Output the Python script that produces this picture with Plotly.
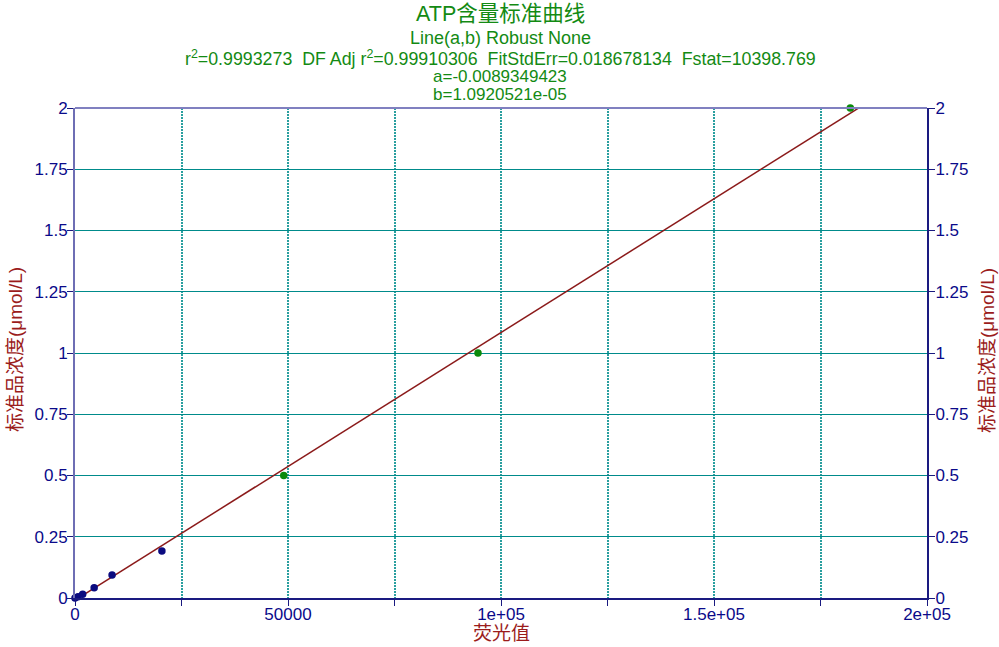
import plotly.graph_objects as go

# Standard points (fluorescence value vs concentration)
x_high = [49000, 94600, 182000]
y_high = [0.5, 1.0, 2.0]
x_low = [0, 700, 1800, 4500, 8700, 20400]
y_low = [0.0, 0.005, 0.015, 0.042, 0.094, 0.192]

# Fit parameters
a = -0.0089349423
b = 1.0920521e-05
fit_x = [0, 200000]
fit_y = [a + b * v for v in fit_x]

x_tickvals = [0, 25000, 50000, 75000, 100000, 125000, 150000, 175000, 200000]
x_ticktext = ["0", "", "50000", "", "1e+05", "", "1.5e+05", "", "2e+05"]
y_tickvals = [0, 0.25, 0.5, 0.75, 1, 1.25, 1.5, 1.75, 2]
y_ticktext = ["0", "0.25", "0.5", "0.75", "1", "1.25", "1.5", "1.75", "2"]

x_title = "荧光值"
y_title = "标准品浓度(μmol/L)"

FONT = "Liberation Sans, Arial, Noto Sans CJK SC, sans-serif"
NAVY = "#0a0a8a"
RED = "#9b1c1c"
GREEN = "#138a13"

fig = go.Figure()
fig.add_trace(go.Scatter(x=fit_x, y=fit_y, mode="lines",
                         line=dict(color="#8b1a1a", width=1.5), showlegend=False,
                         hoverinfo="skip"))
fig.add_trace(go.Scatter(x=x_low, y=y_low, mode="markers",
                         marker=dict(color="#0b0b80", size=7.5), showlegend=False,
                         cliponaxis=False))
fig.add_trace(go.Scatter(x=x_high, y=y_high, mode="markers",
                         marker=dict(color="#0a8a0a", size=7.5), showlegend=False,
                         cliponaxis=False))
# invisible trace to activate right axis
fig.add_trace(go.Scatter(x=[0], y=[0], yaxis="y2", mode="markers",
                         marker=dict(opacity=0), showlegend=False, hoverinfo="skip"))

tickfont = dict(size=17, color=NAVY, family=FONT)
fig.update_layout(
    width=999, height=647,
    margin=dict(l=75, r=72, t=108, b=49),
    paper_bgcolor="white", plot_bgcolor="white",
    font=dict(family=FONT),
    xaxis=dict(range=[0, 200000], tickvals=x_tickvals, ticktext=x_ticktext,
               showgrid=True, gridcolor="#2a9f9f", gridwidth=2, griddash="2px,1px",
               zeroline=False, showline=True, linecolor="#1a1a80", linewidth=2,
               ticks="outside", ticklen=6, tickcolor="#1a1a80", tickwidth=1,
               tickfont=tickfont, automargin=False, ticklabelstandoff=-6),
    yaxis=dict(range=[0, 2], tickvals=y_tickvals, ticktext=y_ticktext,
               showgrid=True, gridcolor="#008b8b", gridwidth=1,
               zeroline=False, showline=True, linecolor="#6e6eb4", linewidth=2,
               ticks="outside", ticklen=6, tickcolor="#1a1a80",
               tickfont=tickfont, automargin=False, ticklabelstandoff=-4),
    yaxis2=dict(range=[0, 2], tickvals=y_tickvals, ticktext=y_ticktext,
                overlaying="y", side="right", showgrid=False, zeroline=False,
                showline=True, linecolor="#1a1a80", linewidth=2,
                ticks="outside", ticklen=6, tickcolor="#1a1a80",
                tickfont=tickfont, automargin=False, ticklabelstandoff=-3),
    shapes=[dict(type="line", xref="paper", yref="paper", x0=0, x1=1, y0=1, y1=1,
                 line=dict(color="#8080c0", width=2))],
)

PH = 490.0  # plot height px
PW = 852.0  # plot width px

titles = [
    ("ATP含量标准曲线", 21.5, 14),
    ("Line(a,b) Robust None", 18, 38),
    ("r<sup>2</sup>=0.9993273  DF Adj r<sup>2</sup>=0.99910306  FitStdErr=0.018678134  Fstat=10398.769", 17.8, 58),
    ("a=-0.0089349423", 17, 77),
    ("b=1.0920521e-05", 17, 95),
]
for text, size, ypx in titles:
    fig.add_annotation(text=text, xref="paper", yref="paper", x=(500 - 75) / PW,
                       y=1 + (108 - ypx) / PH, xanchor="center", yanchor="middle",
                       showarrow=False, font=dict(size=size, color=GREEN, family=FONT))

# axis titles
fig.add_annotation(text=x_title, xref="paper", yref="paper", x=(502 - 75) / PW,
                   y=-(633 - 598) / PH, xanchor="center", yanchor="middle",
                   showarrow=False, font=dict(size=19, color=RED, family=FONT))
for xp in (15, 987):
    fig.add_annotation(text=y_title, xref="paper", yref="paper", x=(xp - 75) / PW,
                       y=(598 - 350) / PH, xanchor="center", yanchor="middle",
                       textangle=-90, showarrow=False,
                       font=dict(size=19, color=RED, family=FONT))

fig.write_html("out.html", config={"displayModeBar": False},
               post_script="document.body.style.margin='0px';")
